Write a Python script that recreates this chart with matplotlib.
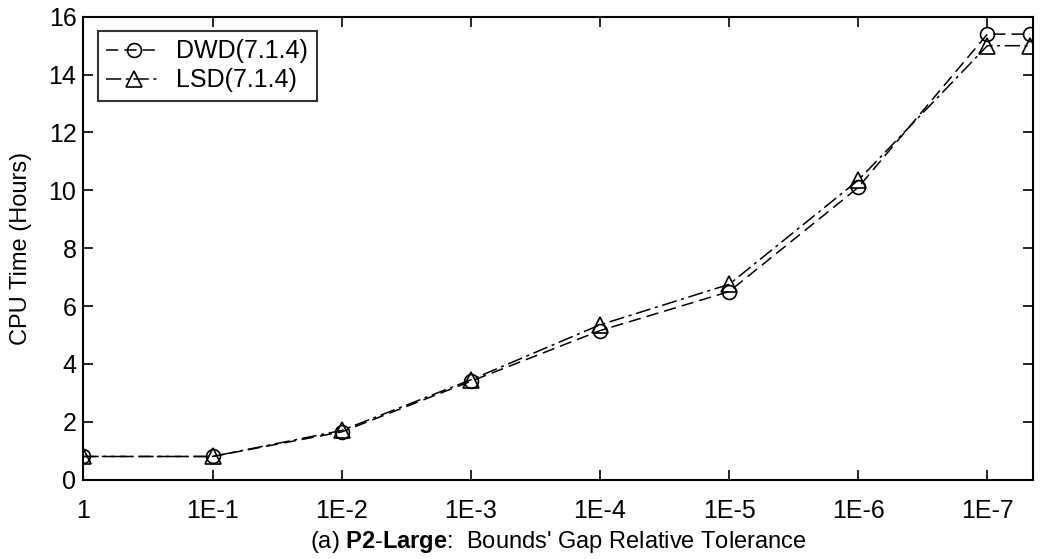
import matplotlib
matplotlib.use("Agg")
import matplotlib.pyplot as plt

# -----------------------------
# Data
# -----------------------------
tick_labels = ["1", "1E-1", "1E-2", "1E-3", "1E-4", "1E-5", "1E-6", "1E-7"]
x_pos = [0, 1, 2, 3, 4, 5, 6, 7, 7.33]
dwd = [0.8, 0.8, 1.65, 3.4, 5.15, 6.5, 10.1, 15.4, 15.4]
lsd = [0.8, 0.8, 1.7, 3.45, 5.35, 6.75, 10.35, 15.0, 15.0]

plt.rcParams["font.family"] = ["Liberation Sans", "DejaVu Sans"]
plt.rcParams["mathtext.fontset"] = "custom"
plt.rcParams["mathtext.rm"] = "Liberation Sans"
plt.rcParams["mathtext.bf"] = "Liberation Sans:bold"

fig = plt.figure(figsize=(10.43, 5.59), dpi=100)
ax = fig.add_axes([0.080, 0.142, 0.910, 0.828])

ax.plot(x_pos, dwd, linestyle=(0, (8, 4)), color="black", lw=1.1,
        marker="o", markersize=10, markerfacecolor="none",
        markeredgecolor="black", markeredgewidth=1.2, label="DWD(7.1.4)")
ax.plot(x_pos, lsd, linestyle=(0, (10, 3, 2, 3)), color="black", lw=1.1,
        marker="^", markersize=11, markerfacecolor="none",
        markeredgecolor="black", markeredgewidth=1.2, label="LSD(7.1.4)")

ax.set_xlim(0, 7.35)
ax.set_ylim(0, 16)
ax.set_xticks(range(len(tick_labels)))
ax.set_xticklabels(tick_labels)
ax.set_yticks(range(0, 17, 2))

ax.tick_params(direction="in", length=7, width=1.2, labelsize=18,
               top=True, right=True, pad=5)
ax.tick_params(axis="x", pad=14)
for s in ax.spines.values():
    s.set_linewidth(1.5)

ax.set_ylabel("CPU Time (Hours)", fontsize=17, labelpad=12)
ax.set_xlabel(r"(a) $\mathbf{P2}$-$\mathbf{Large}$:  Bounds' Gap Relative Tolerance",
              fontsize=17, labelpad=4)

leg = ax.legend(loc="upper left", fontsize=18, frameon=True, fancybox=False,
                edgecolor="black", handlelength=2.2, handletextpad=0.6,
                borderpad=0.35, labelspacing=0.2, borderaxespad=0,
                bbox_to_anchor=(0.015, 0.97))
leg.get_frame().set_linewidth(1.5)

fig.savefig("out.png", dpi=100, facecolor="white")
